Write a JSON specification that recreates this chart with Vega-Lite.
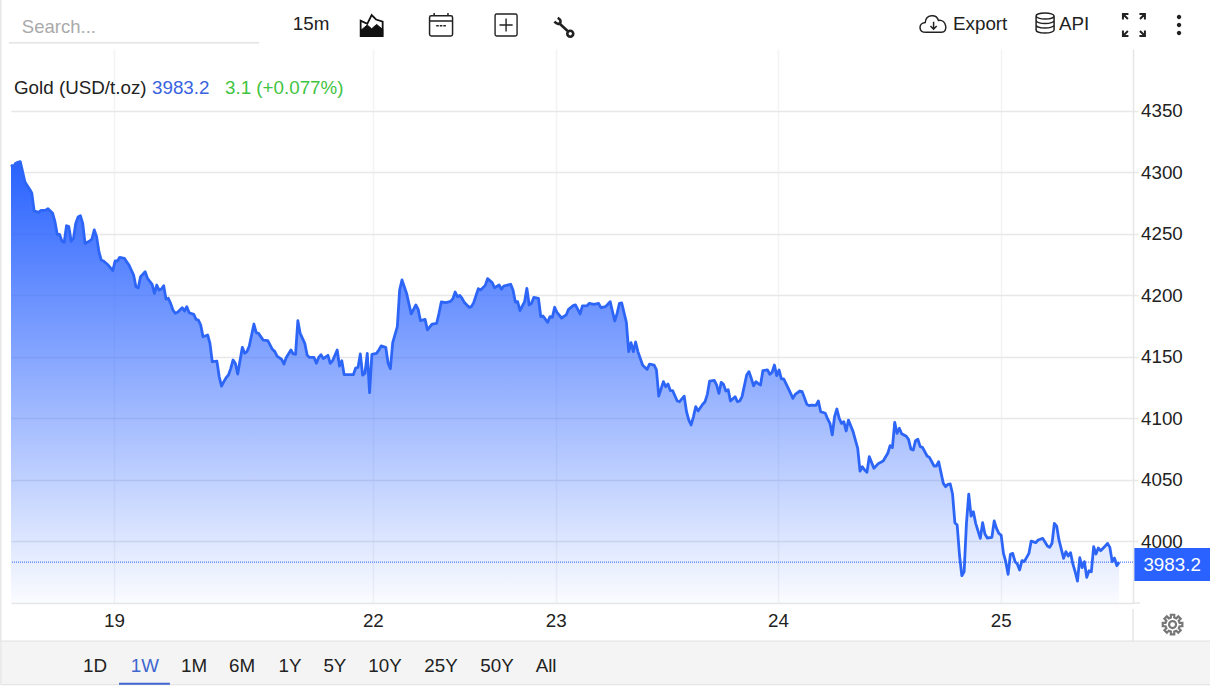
{
  "$schema": "https://vega.github.io/schema/vega-lite/v6.json",
  "description": "Gold (USD/t.oz), one week of 15 minute bars",
  "width": 1122,
  "height": 554,
  "autosize": "none",
  "padding": {"left": 11, "top": 49, "right": 77, "bottom": 84},
  "background": "white",
  "config": {
    "view": {"stroke": null},
    "text": {"font": "Liberation Sans", "fontSize": 18.8, "baseline": "middle", "align": "left", "color": "#222222"},
    "point": {"opacity": 1}
  },
  "datasets": {
    "gold": [
      {"bar":0,"price":4305.8},{"bar":1,"price":4304.4},{"bar":2,"price":4307.1},{"bar":3,"price":4307.9},{"bar":4,"price":4308.5},{"bar":5,"price":4300.4},{"bar":6,"price":4292.2},{"bar":7,"price":4289},{"bar":8,"price":4286.3},{"bar":9,"price":4282.8},
      {"bar":10,"price":4268.4},{"bar":11,"price":4267.9},{"bar":12,"price":4267.3},{"bar":13,"price":4269},{"bar":15,"price":4269},{"bar":16,"price":4270.3},{"bar":18,"price":4266.5},{"bar":19,"price":4259.7},{"bar":20,"price":4249.4},{"bar":21,"price":4249.4},
      {"bar":22,"price":4244},{"bar":23,"price":4243},{"bar":24,"price":4256.5},{"bar":25,"price":4255.7},{"bar":26,"price":4244},{"bar":27,"price":4246.2},{"bar":28,"price":4258.4},{"bar":29,"price":4263.5},{"bar":30,"price":4264.6},{"bar":31,"price":4258.4},
      {"bar":32,"price":4242.1},{"bar":34,"price":4244},{"bar":35,"price":4245.7},{"bar":36,"price":4253},{"bar":37,"price":4247.6},{"bar":38,"price":4235.4},{"bar":39,"price":4228.6},{"bar":40,"price":4227.8},{"bar":42,"price":4224.5},{"bar":44,"price":4219.9},
      {"bar":45,"price":4227.8},{"bar":46,"price":4227.8},{"bar":47,"price":4230.8},{"bar":49,"price":4230},{"bar":50,"price":4227.2},{"bar":51,"price":4224.5},{"bar":53,"price":4216.4},{"bar":54,"price":4206.9},{"bar":55,"price":4206.1},{"bar":56,"price":4215},
      {"bar":57,"price":4217},{"bar":58,"price":4219.1},{"bar":59,"price":4213.7},{"bar":61,"price":4208.8},{"bar":62,"price":4201.5},{"bar":63,"price":4208.3},{"bar":64,"price":4204.2},{"bar":65,"price":4205},{"bar":66,"price":4207.7},{"bar":67,"price":4196.9},
      {"bar":68,"price":4197.5},{"bar":69,"price":4193.4},{"bar":70,"price":4188},{"bar":71,"price":4185.3},{"bar":72,"price":4186.1},{"bar":74,"price":4189.9},{"bar":75,"price":4187.2},{"bar":76,"price":4190.7},{"bar":77,"price":4185.8},{"bar":79,"price":4184.5},
      {"bar":80,"price":4180.4},{"bar":81,"price":4179.8},{"bar":82,"price":4175.8},{"bar":83,"price":4166.3},{"bar":85,"price":4167.7},{"bar":86,"price":4160.9},{"bar":87,"price":4146},{"bar":89,"price":4146.5},{"bar":90,"price":4133.8},{"bar":91,"price":4126.2},
      {"bar":92,"price":4129.8},{"bar":93,"price":4133},{"bar":94,"price":4135.2},{"bar":95,"price":4140.6},{"bar":96,"price":4147.4},{"bar":97,"price":4144.5},{"bar":98,"price":4136},{"bar":100,"price":4157.7},{"bar":101,"price":4152.8},{"bar":102,"price":4154.2},
      {"bar":103,"price":4158.8},{"bar":105,"price":4176.6},{"bar":106,"price":4169.6},{"bar":107,"price":4169},{"bar":109,"price":4163.6},{"bar":111,"price":4163.1},{"bar":113,"price":4156},{"bar":114,"price":4154.4},{"bar":115,"price":4150.6},{"bar":117,"price":4147.9},
      {"bar":118,"price":4144.1},{"bar":119,"price":4149.5},{"bar":121,"price":4155.5},{"bar":122,"price":4152.3},{"bar":123,"price":4152},{"bar":124,"price":4179.3},{"bar":125,"price":4169},{"bar":127,"price":4160.9},{"bar":128,"price":4151.4},{"bar":129,"price":4149.5},
      {"bar":131,"price":4149.5},{"bar":132,"price":4144.7},{"bar":133,"price":4149.5},{"bar":134,"price":4151.7},{"bar":135,"price":4148.5},{"bar":137,"price":4151.2},{"bar":138,"price":4144.7},{"bar":139,"price":4146.8},{"bar":141,"price":4155.5},{"bar":142,"price":4142.5},
      {"bar":143,"price":4146.8},{"bar":144,"price":4135.5},{"bar":146,"price":4135.5},{"bar":148,"price":4135.5},{"bar":149,"price":4140.9},{"bar":150,"price":4141.4},{"bar":151,"price":4152.3},{"bar":152,"price":4135.2},{"bar":153,"price":4136.5},{"bar":154,"price":4152.8},
      {"bar":155,"price":4120.8},{"bar":156,"price":4152},{"bar":158,"price":4152.8},{"bar":159,"price":4155.5},{"bar":160,"price":4158.8},{"bar":162,"price":4157.7},{"bar":163,"price":4144.7},{"bar":164,"price":4140.3},{"bar":165,"price":4161.5},{"bar":167,"price":4174.5},
      {"bar":168,"price":4204.3},{"bar":169,"price":4212.4},{"bar":171,"price":4201.5},{"bar":173,"price":4184.8},{"bar":175,"price":4192.1},{"bar":176,"price":4188.5},{"bar":177,"price":4179.3},{"bar":179,"price":4180.4},{"bar":180,"price":4171.8},{"bar":182,"price":4176.6},
      {"bar":184,"price":4177.2},{"bar":185,"price":4185.3},{"bar":186,"price":4194.5},{"bar":188,"price":4194},{"bar":190,"price":4195},{"bar":191,"price":4197.2},{"bar":192,"price":4202.6},{"bar":193,"price":4198.8},{"bar":194,"price":4199.9},{"bar":195,"price":4197.5},
      {"bar":196,"price":4194},{"bar":198,"price":4190.2},{"bar":199,"price":4190.7},{"bar":200,"price":4194},{"bar":202,"price":4205.3},{"bar":203,"price":4204.3},{"bar":205,"price":4208},{"bar":206,"price":4213.5},{"bar":208,"price":4210.2},{"bar":209,"price":4206.1},
      {"bar":211,"price":4208.3},{"bar":212,"price":4204.8},{"bar":213,"price":4207.5},{"bar":216,"price":4208.9},{"bar":217,"price":4204.3},{"bar":218,"price":4194.5},{"bar":219,"price":4194.8},{"bar":220,"price":4187.5},{"bar":222,"price":4194.8},{"bar":223,"price":4205.6},
      {"bar":224,"price":4192.1},{"bar":225,"price":4193.4},{"bar":226,"price":4198.3},{"bar":228,"price":4197.5},{"bar":229,"price":4182.6},{"bar":230,"price":4183.1},{"bar":232,"price":4178},{"bar":233,"price":4182.6},{"bar":234,"price":4182},{"bar":235,"price":4190.2},
      {"bar":236,"price":4186.1},{"bar":238,"price":4181.5},{"bar":240,"price":4184},{"bar":241,"price":4188.5},{"bar":243,"price":4191.5},{"bar":244,"price":4192.1},{"bar":246,"price":4184.8},{"bar":247,"price":4191.3},{"bar":249,"price":4191.5},{"bar":250,"price":4193.4},
      {"bar":252,"price":4192.6},{"bar":254,"price":4193.4},{"bar":255,"price":4189.9},{"bar":257,"price":4190.7},{"bar":259,"price":4194.8},{"bar":260,"price":4186.7},{"bar":261,"price":4179.1},{"bar":262,"price":4185.3},{"bar":263,"price":4193.4},{"bar":264,"price":4193.7},
      {"bar":266,"price":4178},{"bar":267,"price":4154.2},{"bar":268,"price":4161.5},{"bar":269,"price":4154.2},{"bar":270,"price":4162},{"bar":271,"price":4154.2},{"bar":273,"price":4143.3},{"bar":274,"price":4141.4},{"bar":275,"price":4139.8},{"bar":276,"price":4144.1},
      {"bar":278,"price":4143.3},{"bar":279,"price":4139.3},{"bar":280,"price":4118.1},{"bar":282,"price":4129.8},{"bar":283,"price":4125.7},{"bar":284,"price":4127.9},{"bar":285,"price":4122.5},{"bar":286,"price":4122.5},{"bar":288,"price":4114.1},{"bar":289,"price":4113.5},
      {"bar":291,"price":4118},{"bar":292,"price":4105.4},{"bar":293,"price":4098.6},{"bar":294,"price":4094.6},{"bar":295,"price":4101.4},{"bar":296,"price":4109.5},{"bar":297,"price":4106},{"bar":299,"price":4111.4},{"bar":300,"price":4113.5},{"bar":301,"price":4119.5},
      {"bar":302,"price":4130.3},{"bar":304,"price":4130.9},{"bar":305,"price":4127.1},{"bar":306,"price":4120.3},{"bar":307,"price":4129.2},{"bar":308,"price":4127.6},{"bar":309,"price":4122.2},{"bar":310,"price":4123.3},{"bar":311,"price":4114.1},{"bar":313,"price":4117.6},
      {"bar":314,"price":4113.5},{"bar":315,"price":4114.1},{"bar":316,"price":4117.6},{"bar":318,"price":4135.2},{"bar":319,"price":4137.9},{"bar":320,"price":4132.5},{"bar":321,"price":4126.5},{"bar":322,"price":4129.8},{"bar":323,"price":4128.2},{"bar":324,"price":4127.1},
      {"bar":325,"price":4138.7},{"bar":327,"price":4139.3},{"bar":328,"price":4135.7},{"bar":329,"price":4137.4},{"bar":330,"price":4143.3},{"bar":331,"price":4134.7},{"bar":332,"price":4139.3},{"bar":333,"price":4132},{"bar":334,"price":4132},{"bar":336,"price":4124.4},
      {"bar":338,"price":4116.2},{"bar":339,"price":4119.5},{"bar":341,"price":4122.2},{"bar":342,"price":4121.7},{"bar":344,"price":4111.4},{"bar":345,"price":4110.3},{"bar":346,"price":4110.8},{"bar":348,"price":4110.6},{"bar":349,"price":4114.1},{"bar":350,"price":4105.4},
      {"bar":352,"price":4104.1},{"bar":353,"price":4099.5},{"bar":354,"price":4095.9},{"bar":355,"price":4086.5},{"bar":356,"price":4101.4},{"bar":357,"price":4107.6},{"bar":358,"price":4100},{"bar":359,"price":4095.9},{"bar":360,"price":4097.3},{"bar":361,"price":4089.7},
      {"bar":362,"price":4098.6},{"bar":364,"price":4089.2},{"bar":366,"price":4075.6},{"bar":367,"price":4057.2},{"bar":368,"price":4060.7},{"bar":369,"price":4058},{"bar":370,"price":4056.1},{"bar":371,"price":4068.9},{"bar":373,"price":4059.4},{"bar":375,"price":4063.4},
      {"bar":377,"price":4065.3},{"bar":379,"price":4071.6},{"bar":380,"price":4077.8},{"bar":381,"price":4076.2},{"bar":382,"price":4096.7},{"bar":383,"price":4087.8},{"bar":384,"price":4091.9},{"bar":385,"price":4087.5},{"bar":387,"price":4085.4},{"bar":388,"price":4082.7},
      {"bar":389,"price":4075},{"bar":390,"price":4074.3},{"bar":391,"price":4081.9},{"bar":392,"price":4083},{"bar":393,"price":4077},{"bar":394,"price":4076.4},{"bar":396,"price":4069.4},{"bar":397,"price":4068.3},{"bar":399,"price":4061.3},{"bar":400,"price":4061.3},
      {"bar":401,"price":4064.8},{"bar":403,"price":4047.2},{"bar":404,"price":4044.5},{"bar":405,"price":4046.4},{"bar":406,"price":4046.7},{"bar":407,"price":4038.5},{"bar":408,"price":4015.2},{"bar":409,"price":4013.3},{"bar":410,"price":3989},{"bar":411,"price":3972.2},
      {"bar":412,"price":3975.4},{"bar":413,"price":4014.7},{"bar":414,"price":4038.5},{"bar":415,"price":4020.6},{"bar":416,"price":4024.2},{"bar":417,"price":4014.7},{"bar":419,"price":4002.5},{"bar":420,"price":4015.2},{"bar":421,"price":4006},{"bar":422,"price":4002.8},
      {"bar":424,"price":4003.3},{"bar":425,"price":4016.6},{"bar":426,"price":4010.6},{"bar":427,"price":4006.6},{"bar":428,"price":4005.2},{"bar":429,"price":3990.3},{"bar":430,"price":3983.6},{"bar":431,"price":3973.3},{"bar":432,"price":3989.5},{"bar":433,"price":3990.3},
      {"bar":434,"price":3983.6},{"bar":435,"price":3981.7},{"bar":436,"price":3976.8},{"bar":437,"price":3984.4},{"bar":438,"price":3983.6},{"bar":440,"price":3990.3},{"bar":441,"price":4000.3},{"bar":443,"price":3999},{"bar":444,"price":4001.2},{"bar":446,"price":4002.5},
      {"bar":448,"price":3996.3},{"bar":449,"price":3995.2},{"bar":450,"price":3998.5},{"bar":451,"price":4014.7},{"bar":452,"price":4012.5},{"bar":453,"price":4001.2},{"bar":455,"price":3986.3},{"bar":456,"price":3991.7},{"bar":457,"price":3988.2},{"bar":458,"price":3990.9},
      {"bar":459,"price":3981.7},{"bar":460,"price":3975.4},{"bar":461,"price":3967.8},{"bar":462,"price":3986.8},{"bar":463,"price":3978.7},{"bar":464,"price":3983.6},{"bar":465,"price":3970.8},{"bar":466,"price":3976.2},{"bar":467,"price":3975.4},{"bar":468,"price":3995.7},
      {"bar":469,"price":3989.8},{"bar":470,"price":3994.7},{"bar":471,"price":3992.5},{"bar":473,"price":3996.3},{"bar":474,"price":3998.4},{"bar":475,"price":3995.2},{"bar":476,"price":3983.6},{"bar":477,"price":3986.5},{"bar":478,"price":3980.3},{"bar":479,"price":3983.2}
    ]
  },
  "layer": [
    {
      "data": {"name": "gold"},
      "mark": {
        "type": "area",
        "color": {
          "gradient": "linear", "x1": 0, "y1": 0, "x2": 0, "y2": 1,
          "stops": [
            {"offset": 0, "color": "rgba(41,98,255,1)"},
            {"offset": 1, "color": "rgba(41,98,255,0.02)"}
          ]
        }
      },
      "encoding": {
        "x": {
          "field": "bar", "type": "quantitative",
          "scale": {"domain": [0, 485], "nice": false, "zero": false},
          "axis": {
            "title": null,
            "values": [44.5, 156.4, 235.5, 331.5, 427.8],
            "labelExpr": "datum.value < 100 ? '19' : datum.value < 200 ? '22' : datum.value < 300 ? '23' : datum.value < 400 ? '24' : '25'",
            "grid": true, "gridColor": "#f2f3f5", "gridWidth": 1.5,
            "domainColor": "#e6e6e6", "domainWidth": 1.5, "ticks": false,
            "labelFont": "Liberation Sans", "labelFontSize": 18.8, "labelColor": "#222222", "labelPadding": 8
          }
        },
        "y": {
          "field": "price", "type": "quantitative",
          "scale": {"domain": [3950, 4400], "nice": false, "zero": false},
          "axis": {
            "title": null, "orient": "right", "format": "d",
            "values": [4000, 4050, 4100, 4150, 4200, 4250, 4300, 4350],
            "grid": true, "gridColor": "#e8e8e8", "gridWidth": 1.5,
            "domainColor": "#e6e6e6", "domainWidth": 1.5,
            "tickColor": "#e8e8e8", "tickSize": 5, "tickWidth": 1.5,
            "labelFont": "Liberation Sans", "labelFontSize": 18.8, "labelColor": "#222222", "labelPadding": 2.5, "labelOffset": 0
          }
        },
        "y2": {"datum": 3950}
      }
    },
    {
      "data": {"name": "gold"},
      "mark": {"type": "line", "color": "#2d66f7", "strokeWidth": 2.8, "strokeJoin": "round", "interpolate": "linear"},
      "encoding": {
        "x": {"field": "bar", "type": "quantitative"},
        "y": {"field": "price", "type": "quantitative"}
      }
    },
    {
      "data": {"values": [{}]},
      "mark": {"type": "rule", "color": "#2962ff", "strokeWidth": 1, "strokeDash": [1, 1]},
      "encoding": {"y": {"datum": 3983.2}}
    },
    {
      "data": {"values": [{}]},
      "mark": {"type": "rule", "color": "#e6e6e6", "strokeWidth": 1.5, "clip": false},
      "encoding": {"x": {"datum": 485}, "x2": {"datum": 488}, "y": {"datum": 3950}}
    },
    {
      "data": {"values": [{}]},
      "mark": {"type": "rule", "color": "#e6e6e6", "strokeWidth": 1.5, "clip": false},
      "encoding": {"x": {"datum": 485}, "y": {"datum": 3945}, "y2": {"datum": 3919}}
    },
    {
      "data": {"values": [{}]},
      "mark": {"type": "rule", "color": "#e6e6e6", "strokeWidth": 1.5, "clip": false},
      "encoding": {"x": {"datum": -4.4}, "y": {"datum": 4440}, "y2": {"datum": 3919}}
    },
    {
      "data": {"values": [{}]},
      "mark": {"type": "rule", "color": "#dddddd", "strokeWidth": 1.2, "clip": false},
      "encoding": {"x": {"datum": -0.9}, "x2": {"datum": 107.2}, "y": {"datum": 4404.9}}
    },
    {
      "data": {"values": [{}]},
      "mark": {"type": "rect", "fill": "#f4f4f4", "stroke": "#e0e0e0", "strokeWidth": 1, "clip": false},
      "encoding": {"x": {"datum": -4.4}, "x2": {"datum": 520}, "y": {"datum": 3919.1}, "y2": {"datum": 3883.6}}
    },
    {
      "data": {"values": [{}]},
      "mark": {"type": "rect", "fill": "#3f66d0", "clip": false},
      "encoding": {"x": {"datum": 46.7}, "x2": {"datum": 68.7}, "y": {"datum": 3885.2}, "y2": {"datum": 3883.6}}
    },
    {
      "data": {"values": [{}]},
      "mark": {"type": "rect", "fill": "#2962ff", "clip": false},
      "encoding": {"x": {"datum": 485.6}, "x2": {"datum": 520}, "y": {"datum": 3994.7}, "y2": {"datum": 3967.9}}
    },
    {"data": {"values": [{}]}, "mark": {"type": "text", "text": "3983.2", "color": "white", "align": "center"}, "encoding": {"x": {"datum": 501.9}, "y": {"datum": 3981}}},
    {"data": {"values": [{}]}, "mark": {"type": "text", "text": "Search...", "color": "#aaaaaa", "fontSize": 18.5}, "encoding": {"x": {"datum": 4.7}, "y": {"datum": 4417.8}}},
    {"data": {"values": [{}]}, "mark": {"type": "text", "text": "15m", "align": "center"}, "encoding": {"x": {"datum": 129.7}, "y": {"datum": 4420.5}}},
    {"data": {"values": [{}]}, "mark": {"type": "text", "text": "Export"}, "encoding": {"x": {"datum": 407.2}, "y": {"datum": 4420.5}}},
    {"data": {"values": [{}]}, "mark": {"type": "text", "text": "API"}, "encoding": {"x": {"datum": 453}, "y": {"datum": 4420.5}}},
    {"data": {"values": [{}]}, "mark": {"type": "text", "text": "Gold (USD/t.oz)"}, "encoding": {"x": {"datum": 1.3}, "y": {"datum": 4368.1}}},
    {"data": {"values": [{}]}, "mark": {"type": "text", "text": "3983.2", "color": "#3a63e0"}, "encoding": {"x": {"datum": 60.95}, "y": {"datum": 4368.1}}},
    {"data": {"values": [{}]}, "mark": {"type": "text", "text": "3.1 (+0.077%)", "color": "#3fc43f"}, "encoding": {"x": {"datum": 92.5}, "y": {"datum": 4368.1}}},
    {"data": {"values": [{}]}, "mark": {"type": "text", "text": "1D", "align": "center"}, "encoding": {"x": {"datum": 36.3}, "y": {"datum": 3898.5}}},
    {"data": {"values": [{}]}, "mark": {"type": "text", "text": "1W", "align": "center", "color": "#3f66d0"}, "encoding": {"x": {"datum": 57.9}, "y": {"datum": 3898.5}}},
    {"data": {"values": [{}]}, "mark": {"type": "text", "text": "1M", "align": "center"}, "encoding": {"x": {"datum": 79.1}, "y": {"datum": 3898.5}}},
    {"data": {"values": [{}]}, "mark": {"type": "text", "text": "6M", "align": "center"}, "encoding": {"x": {"datum": 99.9}, "y": {"datum": 3898.5}}},
    {"data": {"values": [{}]}, "mark": {"type": "text", "text": "1Y", "align": "center"}, "encoding": {"x": {"datum": 120.6}, "y": {"datum": 3898.5}}},
    {"data": {"values": [{}]}, "mark": {"type": "text", "text": "5Y", "align": "center"}, "encoding": {"x": {"datum": 140}, "y": {"datum": 3898.5}}},
    {"data": {"values": [{}]}, "mark": {"type": "text", "text": "10Y", "align": "center"}, "encoding": {"x": {"datum": 161.7}, "y": {"datum": 3898.5}}},
    {"data": {"values": [{}]}, "mark": {"type": "text", "text": "25Y", "align": "center"}, "encoding": {"x": {"datum": 185.9}, "y": {"datum": 3898.5}}},
    {"data": {"values": [{}]}, "mark": {"type": "text", "text": "50Y", "align": "center"}, "encoding": {"x": {"datum": 210.1}, "y": {"datum": 3898.5}}},
    {"data": {"values": [{}]}, "mark": {"type": "text", "text": "All", "align": "center"}, "encoding": {"x": {"datum": 231.3}, "y": {"datum": 3898.5}}},
    {
      "data": {"values": [{}]},
      "mark": {"type": "point", "size": 484, "fill": "transparent", "stroke": "#111111", "strokeWidth": 1.8, "shape": "M-1,1 L-1,-0.4 L-0.4,-0.1 L0,-0.9 L0.4,-0.5 L1,-0.3 L1,1 Z"},
      "encoding": {"x": {"datum": 155.9}, "y": {"datum": 4419.5}}
    },
    {
      "data": {"values": [{}]},
      "mark": {"type": "point", "size": 484, "fill": "#111111", "stroke": "#111111", "strokeWidth": 1, "shape": "M-1,1 L-1,0.5 L-0.4,0 L0,0.35 L0.45,-0.05 L1,0.4 L1,1 Z"},
      "encoding": {"x": {"datum": 155.9}, "y": {"datum": 4419.5}}
    },
    {
      "data": {"values": [{}]},
      "mark": {"type": "point", "size": 529, "fill": "transparent", "stroke": "#222222", "strokeWidth": 1.5, "shape": "M-0.85,-0.75 L0.85,-0.75 Q1,-0.75 1,-0.6 L1,0.85 Q1,1 0.85,1 L-0.85,1 Q-1,1 -1,0.85 L-1,-0.6 Q-1,-0.75 -0.85,-0.75 Z M-1,-0.3 L1,-0.3 M-0.6,-1 L-0.6,-0.75 M0.6,-1 L0.6,-0.75 M-0.42,0.12 L-0.2,0.12 M-0.11,0.12 L0.11,0.12 M0.2,0.12 L0.42,0.12"},
      "encoding": {"x": {"datum": 185.9}, "y": {"datum": 4420}}
    },
    {
      "data": {"values": [{}]},
      "mark": {"type": "point", "size": 484, "fill": "transparent", "stroke": "#222222", "strokeWidth": 1.4, "shape": "M-0.85,-1 L0.85,-1 Q1,-1 1,-0.85 L1,0.85 Q1,1 0.85,1 L-0.85,1 Q-1,1 -1,0.85 L-1,-0.85 Q-1,-1 -0.85,-1 Z M0,-0.6 L0,0.6 M-0.6,0 L0.6,0"},
      "encoding": {"x": {"datum": 214}, "y": {"datum": 4419.5}}
    },
    {
      "data": {"values": [{}]},
      "mark": {"type": "point", "size": 441, "fill": "transparent", "stroke": "#222222", "strokeWidth": 2.6, "shape": "M-0.85,-0.5 Q-0.6,-0.15 -0.3,-0.35 Q-0.2,-0.7 -0.55,-0.85 M-0.35,-0.3 L0.45,0.45 M0.45,0.45 A0.24,0.24 0 1 0 0.85,0.85 A0.24,0.24 0 1 0 0.45,0.45"},
      "encoding": {"x": {"datum": 238.8}, "y": {"datum": 4418}}
    },
    {
      "data": {"values": [{}]},
      "mark": {"type": "point", "size": 784, "fill": "transparent", "stroke": "#222222", "strokeWidth": 1.5, "shape": "M-0.55,0.55 C-1.1,0.55 -1.1,-0.1 -0.6,-0.15 C-0.55,-0.75 0.2,-0.8 0.35,-0.3 C0.9,-0.4 1.1,0.55 0.55,0.55 Z M0,-0.2 L0,0.3 M-0.22,0.1 L0,0.33 L0.22,0.1"},
      "encoding": {"x": {"datum": 398.8}, "y": {"datum": 4419.8}}
    },
    {
      "data": {"values": [{}]},
      "mark": {"type": "point", "size": 400, "fill": "transparent", "stroke": "#222222", "strokeWidth": 1.5, "shape": "M-0.9,-0.7 A0.9,0.3 0 1 1 0.9,-0.7 A0.9,0.3 0 1 1 -0.9,-0.7 M-0.9,-0.7 L-0.9,0.7 A0.9,0.3 0 0 0 0.9,0.7 L0.9,-0.7 M-0.9,-0.25 A0.9,0.3 0 0 0 0.9,-0.25 M-0.9,0.2 A0.9,0.3 0 0 0 0.9,0.2"},
      "encoding": {"x": {"datum": 447}, "y": {"datum": 4421.1}}
    },
    {
      "data": {"values": [{}]},
      "mark": {"type": "point", "size": 484, "fill": "transparent", "stroke": "#222222", "strokeWidth": 2, "shape": "M-1,-0.5 L-1,-1 L-0.5,-1 M-1,-1 L-0.55,-0.55 M1,-0.5 L1,-1 L0.5,-1 M1,-1 L0.55,-0.55 M-1,0.5 L-1,1 L-0.5,1 M-1,1 L-0.55,0.55 M1,0.5 L1,1 L0.5,1 M1,1 L0.55,0.55"},
      "encoding": {"x": {"datum": 485.4}, "y": {"datum": 4419.5}}
    },
    {
      "data": {"values": [{}]},
      "mark": {"type": "point", "size": 400, "fill": "#222222", "stroke": null, "shape": "M-0.22,-0.8 A0.22,0.22 0 1 0 0.22,-0.8 A0.22,0.22 0 1 0 -0.22,-0.8 Z M-0.22,0 A0.22,0.22 0 1 0 0.22,0 A0.22,0.22 0 1 0 -0.22,0 Z M-0.22,0.8 A0.22,0.22 0 1 0 0.22,0.8 A0.22,0.22 0 1 0 -0.22,0.8 Z"},
      "encoding": {"x": {"datum": 504.9}, "y": {"datum": 4419.5}}
    },
    {
      "data": {"values": [{}]},
      "mark": {"type": "point", "size": 400, "fill": "transparent", "stroke": "#777777", "strokeWidth": 2.2, "shape": "M0.7,-0.17 L0.98,-0.17 L0.98,0.17 L0.7,0.17 L0.615,0.375 L0.813,0.573 L0.573,0.813 L0.375,0.615 L0.17,0.7 L0.17,0.98 L-0.17,0.98 L-0.17,0.7 L-0.375,0.615 L-0.573,0.813 L-0.813,0.573 L-0.615,0.375 L-0.7,0.17 L-0.98,0.17 L-0.98,-0.17 L-0.7,-0.17 L-0.615,-0.375 L-0.813,-0.573 L-0.573,-0.813 L-0.375,-0.615 L-0.17,-0.7 L-0.17,-0.98 L0.17,-0.98 L0.17,-0.7 L0.375,-0.615 L0.573,-0.813 L0.813,-0.573 L0.615,-0.375 Z M-0.35,0 A0.35,0.35 0 1 0 0.35,0 A0.35,0.35 0 1 0 -0.35,0 Z"},
      "encoding": {"x": {"datum": 502.1}, "y": {"datum": 3932.5}}
    }
  ]
}
